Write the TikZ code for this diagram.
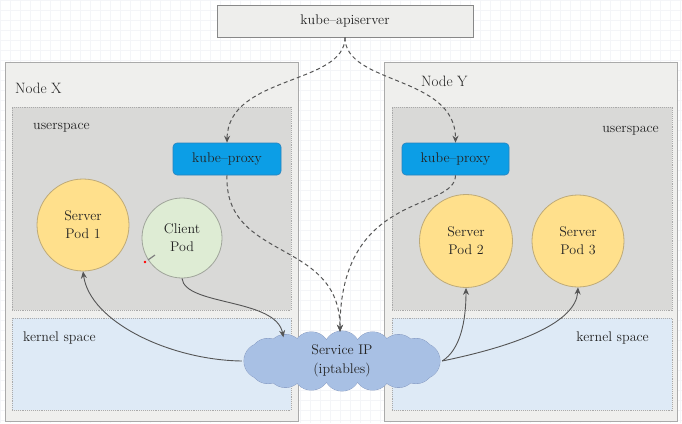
\documentclass[tikz,border=0pt]{standalone}
\usetikzlibrary{shapes.geometric,arrows.meta}
\definecolor{gridc}{RGB}{244,245,248}
\definecolor{apifill}{RGB}{238,238,236}
\definecolor{boxline}{RGB}{170,170,170}
\definecolor{nodefill}{RGB}{239,239,237}
\definecolor{userfill}{RGB}{217,217,215}
\definecolor{kernfill}{RGB}{222,234,246}
\definecolor{proxyfill}{RGB}{12,158,230}
\definecolor{proxyline}{RGB}{40,130,190}
\definecolor{podfill}{RGB}{255,224,140}
\definecolor{podline}{RGB}{190,170,120}
\definecolor{clientfill}{RGB}{222,236,212}
\definecolor{clientline}{RGB}{160,165,155}
\definecolor{cloudfill}{RGB}{168,192,228}
\definecolor{cloudline}{RGB}{130,150,190}
\definecolor{txt}{RGB}{35,35,35}
\definecolor{arr}{RGB}{85,85,85}
\tikzset{
  lbl/.style={text=txt, font=\fontsize{14}{16}\selectfont, inner sep=0pt},
  outerbox/.style={draw=boxline, fill=nodefill, line width=0.8pt, inner sep=0pt},
  innerbox/.style={draw=boxline, densely dotted, line width=0.9pt, inner sep=0pt},
  apibox/.style={draw=boxline!80!black, fill=apifill, line width=0.9pt, inner sep=0pt, minimum width=256pt, minimum height=32pt, text=txt, font=\fontsize{14}{16}\selectfont},
  proxybox/.style={draw=proxyline, fill=proxyfill, rounded corners=4pt, line width=0.6pt, minimum height=32pt, inner sep=0pt, text=txt, font=\fontsize{14}{16}\selectfont},
  pod/.style={circle, draw=podline, fill=podfill, line width=0.8pt, inner sep=0pt, align=center, text=txt, font=\fontsize{14}{18}\selectfont},
  clientpod/.style={circle, draw=clientline, fill=clientfill, line width=0.8pt, inner sep=0pt, align=center, text=txt, font=\fontsize{14}{18}\selectfont},
  svc/.style={ellipse, minimum width=200pt, minimum height=58pt, inner sep=0pt, align=center, text=txt, font=\fontsize{14}{19}\selectfont},
  puffline/.style={draw=cloudline, line width=0.8pt},
  pufffill/.style={fill=cloudfill},
  dasharrow/.style={draw=arr, line width=1pt, dash pattern=on 4pt off 3pt, -{Stealth[length=7pt,width=6pt]}},
  solidarrow/.style={draw=arr, line width=0.9pt, -{Stealth[length=7pt,width=6pt]}},
}
\begin{document}
\begin{tikzpicture}[x=1pt,y=-1pt]
\useasboundingbox (0,0) rectangle (682,423);
\fill[white] (0,0) rectangle (682,423);
\draw[gridc, line width=0.5pt, step=10pt] (0,0) grid (682,423);

% node boxes
\node[outerbox, minimum width=293pt, minimum height=359pt] (nx) at (151.5,241.5) {};
\node[outerbox, minimum width=293pt, minimum height=359pt] (ny) at (530.5,241.5) {};
\node[innerbox, fill=userfill, minimum width=279pt, minimum height=203pt] (ux) at (151.5,208.5) {};
\node[innerbox, fill=userfill, minimum width=280pt, minimum height=203pt] (uy) at (532,208.5) {};
\node[innerbox, fill=kernfill, minimum width=279pt, minimum height=92pt] (kx) at (151.5,364) {};
\node[innerbox, fill=kernfill, minimum width=280pt, minimum height=92pt] (ky) at (532,364) {};

% labels
\node[lbl, anchor=west, font=\fontsize{15}{17}\selectfont] (lnx) at (15,88) {Node X};
\node[lbl, anchor=west, font=\fontsize{15}{17}\selectfont] (lny) at (421,81) {Node Y};
\node[lbl, anchor=west] (lux) at (33,128) {userspace};
\node[lbl, anchor=east] (luy) at (659,131) {userspace};
\node[lbl, anchor=west] (lkx) at (23,338) {kernel space};
\node[lbl, anchor=east] (lky) at (649,338) {kernel space};

% main nodes
\node[apibox] (api) at (345,21) {kube--apiserver};
\node[proxybox, minimum width=108pt] (kpx) at (227,159) {kube--proxy};
\node[proxybox, minimum width=107pt] (kpy) at (455.5,159) {kube--proxy};
\node[pod, minimum size=92pt] (p1) at (83,225) {Server\\Pod 1};
\node[clientpod, minimum size=80pt] (cp) at (182,238) {Client\\Pod};
\node[pod, minimum size=93pt] (p2) at (466,241) {Server\\Pod 2};
\node[pod, minimum size=92pt] (p3) at (578,241) {Server\\Pod 3};

% cloud (Service IP)
\foreach \t in {0,22.5,...,337.5}
  \draw[puffline] ({342+80*cos(\t)},{361+12*sin(\t)}) circle (18pt);
\foreach \t in {0,22.5,...,337.5}
  \fill[pufffill] ({342+80*cos(\t)},{361+12*sin(\t)}) circle (18pt);
\fill[pufffill] (342,361) ellipse (80pt and 14pt);
\node[svc] (svc) at (342,361) {Service IP\\(iptables)};

% cursor mark
\draw[gray, line width=1.2pt] (155,255) -- (148,260);
\fill[red] (145,262) circle (1.3pt);

% dashed connectors
\draw[dasharrow] (api.south) .. controls (345,85) and (228,75) .. (kpx.north);
\draw[dasharrow] (api.south) .. controls (345,85) and (455.5,75) .. (kpy.north);
\draw[dasharrow] (kpx.south) .. controls (224,262) and (340,238) .. ([xshift=-2pt]svc.north);
\draw[dasharrow] (kpy.south) .. controls (455,212) and (340,190) .. ([xshift=-2pt]svc.north);

% solid connectors
\draw[solidarrow] (cp.south) .. controls (185,306) and (276,298) .. (svc.158);
\draw[solidarrow] (svc.west) .. controls (170,360) and (90,322) .. (p1.south);
\draw[solidarrow] (svc.east) .. controls (460,350) and (466,322) .. (p2.south);
\draw[solidarrow] (svc.east) .. controls (520,345) and (576,322) .. (p3.south);
\end{tikzpicture}
\end{document}
